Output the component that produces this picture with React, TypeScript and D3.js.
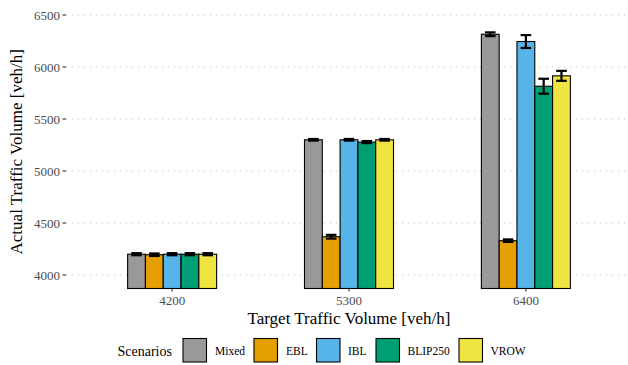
import React from "react";
import * as d3 from "d3";

// Target traffic volume groups (veh/h)
const targets = ["4200", "5300", "6400"];
// Scenario names and fill colours
const scenarios = ["Mixed", "EBL", "IBL", "BLIP250", "VROW"];
const scenarioColors = ["#999999", "#E69F00", "#56B4E9", "#009E73", "#F0E442"];

// Mean actual traffic volume per scenario, one entry per target group
const meanMixed = [4200, 5300, 6315];
const meanEBL = [4195, 4368, 4330];
const meanIBL = [4200, 5300, 6245];
const meanBLIP250 = [4200, 5278, 5815];
const meanVROW = [4200, 5300, 5915];

// Half-width of the error bars per scenario
const errMixed = [10, 8, 18];
const errEBL = [12, 18, 12];
const errIBL = [10, 8, 62];
const errBLIP250 = [10, 10, 72];
const errVROW = [10, 8, 48];

const yTicks = [4000, 4500, 5000, 5500, 6000, 6500];

const W = 628;
const H = 365;
const panelLeft = 66;
const panelRight = 632;
const panelTop = 5;
const panelBottom = 288.5;

export default function App() {
  const means = [meanMixed, meanEBL, meanIBL, meanBLIP250, meanVROW];
  const errs = [errMixed, errEBL, errIBL, errBLIP250, errVROW];

  const x = d3.scalePoint<string>().domain(targets).range([panelLeft, panelRight]).padding(0.6);
  const inner = d3.scaleBand<string>().domain(scenarios).range([-44.5, 44.5]).padding(0);
  const y = d3.scaleLinear().domain([4000, 6500]).range([275, 15]);
  const base = y.invert(panelBottom);
  const font = "'Liberation Serif', 'Times New Roman', serif";
  const bw = inner.bandwidth();

  const legendKeys = [
    { name: "Mixed", kx: 183, tx: 215 },
    { name: "EBL", kx: 254, tx: 286 },
    { name: "IBL", kx: 316.5, tx: 348 },
    { name: "BLIP250", kx: 376, tx: 407.5 },
    { name: "VROW", kx: 459, tx: 490.5 },
  ];

  return (
    <svg width={W} height={H} style={{ position: "absolute", left: 0, top: 0, background: "#fff" }} fontFamily={font}>
      {/* horizontal dotted grid */}
      {yTicks.map((t) => (
        <g key={t}>
          <line x1={panelLeft} x2={W} y1={y(t)} y2={y(t)} stroke="#c4c4c4" strokeWidth={1} strokeDasharray="1.2,4.8" />
          <line x1={62.5} x2={66} y1={y(t)} y2={y(t)} stroke="#333" strokeWidth={1.1} />
          <text x={60} y={y(t)} dy="0.35em" textAnchor="end" fontSize={13} fill="#4d4d4d">{t}</text>
        </g>
      ))}

      {/* bars */}
      {targets.map((tg, gi) => (
        <g key={tg} transform={`translate(${x(tg)},0)`}>
          {scenarios.map((s, si) => {
            const v = means[si][gi];
            const bx = inner(s)!;
            return (
              <rect key={s} x={bx} y={y(v)} width={bw} height={y(base) - y(v)} fill={scenarioColors[si]} stroke="#000" strokeWidth={1.1} />
            );
          })}
          {scenarios.map((s, si) => {
            const v = means[si][gi];
            const e = errs[si][gi];
            const cx = inner(s)! + bw / 2;
            const y1 = y(v + e);
            const y2 = y(v - e);
            return (
              <g key={s} stroke="#000" strokeWidth={2.2}>
                <line x1={cx} x2={cx} y1={y1} y2={y2} />
                <line x1={cx - 5.3} x2={cx + 5.3} y1={y1} y2={y1} />
                <line x1={cx - 5.3} x2={cx + 5.3} y1={y2} y2={y2} />
              </g>
            );
          })}
          <line x1={0} x2={0} y1={panelBottom} y2={panelBottom + 3} stroke="#333" strokeWidth={1.1} />
          <text x={0} y={panelBottom + 16} textAnchor="middle" fontSize={13} fill="#4d4d4d">{tg}</text>
        </g>
      ))}

      {/* axis titles */}
      <text x={349} y={323.5} textAnchor="middle" fontSize={17} fill="#000">Target Traffic Volume [veh/h]</text>
      <text transform={`translate(22,${(panelTop + panelBottom) / 2 + 5}) rotate(-90)`} textAnchor="middle" fontSize={17} fill="#000">
        Actual Traffic Volume [veh/h]
      </text>

      {/* legend */}
      <text x={117.5} y={355.5} fontSize={14} fill="#000">Scenarios</text>
      {legendKeys.map((k, i) => (
        <g key={k.name}>
          <rect x={k.kx} y={338.5} width={23.5} height={23.5} fill={scenarioColors[i]} stroke="#000" strokeWidth={1.1} />
          <text x={k.tx} y={354.5} fontSize={11.5} fill="#000">{k.name}</text>
        </g>
      ))}
    </svg>
  );
}
